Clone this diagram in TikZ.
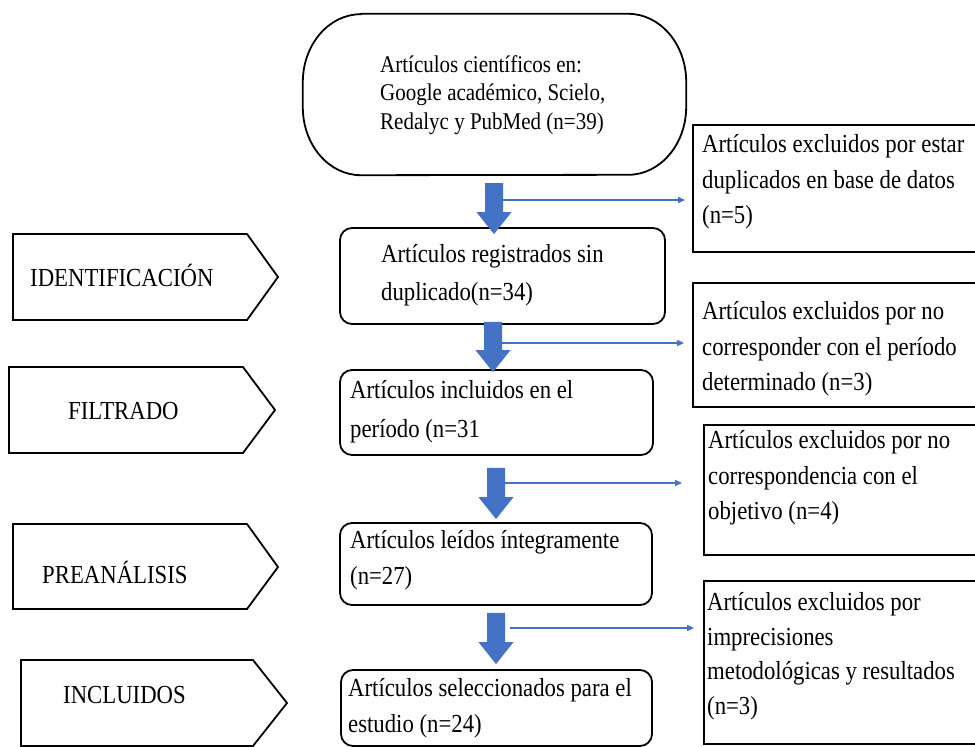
\documentclass[tikz,border=0pt]{standalone}
\usepackage{fontspec}
\setmainfont[FakeStretch=0.875]{Liberation Serif}
\usetikzlibrary{arrows.meta,calc}
\definecolor{flowblue}{HTML}{4472C4}
\begin{document}
\begin{tikzpicture}[x=1pt,y=-1pt,
  rbox/.style={draw=black, line width=1.8pt, rounded corners=12pt, inner sep=0pt},
  sidebox/.style={draw=black, line width=1.8pt, inner sep=0pt},
  stage/.style={draw=black, line width=1.8pt},
  txt/.style={inner sep=0pt, align=left, anchor=west, font=\fontsize{26}{35.5}\selectfont},
  stagetxt/.style={inner sep=0pt, anchor=west, text height=18pt, text depth=6pt, font=\fontsize{26}{30}\selectfont},
  blockarrow/.style={to path={let \p1=(\tikztostart), \p2=(\tikztotarget) in
     (\x1-9pt,\y1) -- (\x1+9pt,\y1) -- (\x1+9pt,\y2+22pt) -- (\x1+17.5pt,\y2+22pt)
     -- (\x1,\y2) -- (\x1-17.5pt,\y2+22pt) -- (\x1-9pt,\y2+22pt) -- cycle}},
  thinarrow/.style={draw=flowblue, line width=1.3pt, -{Triangle[length=7pt,width=6pt]}}
]
\useasboundingbox (0,0) rectangle (975,747);
\fill[white] (0,0) rectangle (975,747);

% source terminator
\node[minimum width=383pt, minimum height=161pt, inner sep=0pt] (src) at (494.5,94.5) {};
\draw[line width=1.8pt] ([xshift=58pt]src.north west) -- ([xshift=-58pt]src.north east)
  arc[start angle=90, end angle=0, x radius=58pt, y radius=68pt] -- ++(0pt,-25pt)
  arc[start angle=0, end angle=-90, x radius=58pt, y radius=68pt] -- ([xshift=58pt]src.south west)
  arc[start angle=270, end angle=180, x radius=58pt, y radius=68pt] -- ++(0pt,25pt)
  arc[start angle=180, end angle=90, x radius=58pt, y radius=68pt] -- cycle;
\node[txt, font=\fontsize{24}{28.5}\selectfont] (srct) at (380,95) {Artículos científicos en:\\Google académico, Scielo,\\Redalyc y PubMed (n=39)};

% main boxes
\node[rbox, minimum width=325pt, minimum height=96pt] (b2) at (502.5,276) {};
\node[txt, font=\fontsize{26}{38}\selectfont] (b2t) at (381,275) {Artículos registrados sin\\duplicado(n=34)};
\node[rbox, minimum width=313pt, minimum height=85pt] (b3) at (496.5,412.5) {};
\node[txt, font=\fontsize{26}{39}\selectfont] (b3t) at (350,412) {Artículos incluidos en el\\período (n=31};
\node[rbox, minimum width=312pt, minimum height=82pt] (b4) at (496,564) {};
\node[txt] (b4t) at (350,560) {Artículos leídos íntegramente\\(n=27)};
\node[rbox, minimum width=311pt, minimum height=76pt] (b5) at (496.5,708) {};
\node[txt] (b5t) at (348,708) {Artículos seleccionados para el\\estudio (n=24)};

% side boxes
\node[sidebox, minimum width=310pt, minimum height=127pt] (r1) at (848,188.5) {};
\node[txt] (r1t) at (702,182) {Artículos excluidos por estar\\duplicados en base de datos\\(n=5)};
\node[sidebox, minimum width=310pt, minimum height=124pt] (r2) at (848,345) {};
\node[txt] (r2t) at (702,349) {Artículos excluidos por no\\corresponder con el período\\determinado (n=3)};
\node[sidebox, minimum width=300pt, minimum height=130pt] (r3) at (854,490) {};
\node[txt] (r3t) at (708,478) {Artículos excluidos por no\\correspondencia con el\\objetivo (n=4)};
\node[sidebox, minimum width=300pt, minimum height=163pt] (r4) at (854,662.5) {};
\node[txt, font=\fontsize{26}{34.5}\selectfont] (r4t) at (707,656) {Artículos excluidos por\\imprecisiones\\metodológicas y resultados\\(n=3)};

% stage labels
\draw[stage] (13,234) -- (247,234) -- (278,277) -- (247,320) -- (13,320) -- cycle;
\node[stagetxt] (s1) at (30,280) {IDENTIFICACIÓN};
\draw[stage] (9,367) -- (243,367) -- (275,410) -- (243,453) -- (9,453) -- cycle;
\node[stagetxt] (s2) at (68,413) {FILTRADO};
\draw[stage] (13,524) -- (247,524) -- (278,567) -- (247,609) -- (13,609) -- cycle;
\node[stagetxt] (s3) at (42,577) {PREANÁLISIS};
\draw[stage] (21,660) -- (253,660) -- (287,703) -- (253,746) -- (21,746) -- cycle;
\node[stagetxt] (s4) at (63,697) {INCLUIDOS};

% block arrows
\coordinate (colA) at (494,0);
\coordinate (colB) at (493,0);
\coordinate (colC) at (496,0);
\fill[flowblue] ([yshift=-8pt]colA |- src.south) to[blockarrow] ([yshift=-7pt]colA |- b2.north);
\fill[flowblue] ([yshift=3pt]colB |- b2.south) to[blockarrow] ([yshift=-3pt]colB |- b3.north);
\fill[flowblue] ([yshift=-12pt]colC |- b3.south) to[blockarrow] ([yshift=3pt]colC |- b4.north);
\fill[flowblue] ([yshift=-7pt]colC |- b4.south) to[blockarrow] ([yshift=5pt]colC |- b5.north);

% thin arrows
\coordinate (t1) at (503,200);
\coordinate (t2) at (502,343);
\coordinate (t3) at (505,483);
\coordinate (t4) at (510,628);
\draw[thinarrow, shorten >=7pt] (t1) -- (t1 -| r1.west);
\draw[thinarrow, shorten >=8pt] (t2) -- (t2 -| r2.west);
\draw[thinarrow, shorten >=21pt] (t3) -- (t3 -| r3.west);
\draw[thinarrow, shorten >=9pt] (t4) -- (t4 -| r4.west);
\end{tikzpicture}
\end{document}
